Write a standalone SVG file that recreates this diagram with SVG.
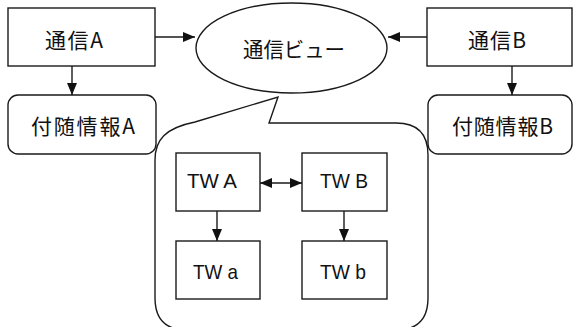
<svg xmlns="http://www.w3.org/2000/svg" width="573" height="327" viewBox="0 0 573 327">
<defs>
<style>
.box{fill:#fff;stroke:#1a1a1a;stroke-width:1.4}
.ln{fill:none;stroke:#1a1a1a;stroke-width:1.4}
.jp{font-family:"Noto Sans CJK JP","Liberation Sans",sans-serif;font-size:21px;fill:#111;dominant-baseline:central}
.en{font-family:"Liberation Sans",Arial,sans-serif;font-size:21px;fill:#111;dominant-baseline:central}
</style>
<marker id="ah" viewBox="0 0 12 12" refX="12" refY="6" markerWidth="12" markerHeight="12" markerUnits="userSpaceOnUse" orient="auto-start-reverse">
<path d="M0,1 L12,6 L0,11 Z" fill="#111"/>
</marker>
</defs>
<rect width="573" height="327" fill="#fff"/>
<g id="callout">
<path class="box" d="M278,97 L269,123 L396,123 Q428,123 428,155 L428,298 Q428,330 396,330 L187,330 Q155,330 155,298 L155,160 C155,140 165,128 195,122 Z"/>
</g>
<g id="tsushinA"><rect class="box" x="8" y="8" width="147" height="58"/><text class="jp" x="45" y="39" textLength="58">通信A</text></g>
<g id="tsushinB"><rect class="box" x="427" y="8" width="145" height="58"/><text class="jp" x="468" y="39" textLength="58">通信B</text></g>
<g id="fuzuiA"><rect class="box" x="8" y="95" width="148" height="59" rx="10"/><text class="jp" x="31" y="125" textLength="104">付随情報A</text></g>
<g id="fuzuiB"><rect class="box" x="428" y="95" width="144" height="59" rx="10"/><text class="jp" x="452" y="125" textLength="101">付随情報B</text></g>
<g id="view"><ellipse class="box" cx="291.5" cy="48" rx="95.5" ry="45"/><text class="jp" x="243" y="48" textLength="102" lengthAdjust="spacingAndGlyphs">通信ビュー</text></g>
<g id="twA"><rect class="box" x="176" y="153" width="84" height="58"/><text class="en" x="187" y="180" textLength="50" lengthAdjust="spacingAndGlyphs">TW A</text></g>
<g id="twB"><rect class="box" x="302" y="153" width="85" height="58"/><text class="en" x="320" y="180" textLength="48" lengthAdjust="spacingAndGlyphs">TW B</text></g>
<g id="twa"><rect class="box" x="176" y="241" width="84" height="58"/><text class="en" x="193" y="271" textLength="45" lengthAdjust="spacingAndGlyphs">TW a</text></g>
<g id="twb"><rect class="box" x="302" y="241" width="85" height="58"/><text class="en" x="320" y="271" textLength="46" lengthAdjust="spacingAndGlyphs">TW b</text></g>
<g id="connectors">
<line class="ln" x1="155" y1="37" x2="195" y2="37" marker-end="url(#ah)"/>
<line class="ln" x1="427" y1="37" x2="388" y2="37" marker-end="url(#ah)"/>
<line class="ln" x1="72" y1="66" x2="72" y2="95" marker-end="url(#ah)"/>
<line class="ln" x1="512" y1="66" x2="512" y2="95" marker-end="url(#ah)"/>
<line class="ln" x1="260" y1="183" x2="302" y2="183" marker-start="url(#ah)" marker-end="url(#ah)"/>
<line class="ln" x1="217" y1="211" x2="217" y2="241" marker-end="url(#ah)"/>
<line class="ln" x1="344" y1="211" x2="344" y2="241" marker-end="url(#ah)"/>
</g>
</svg>
